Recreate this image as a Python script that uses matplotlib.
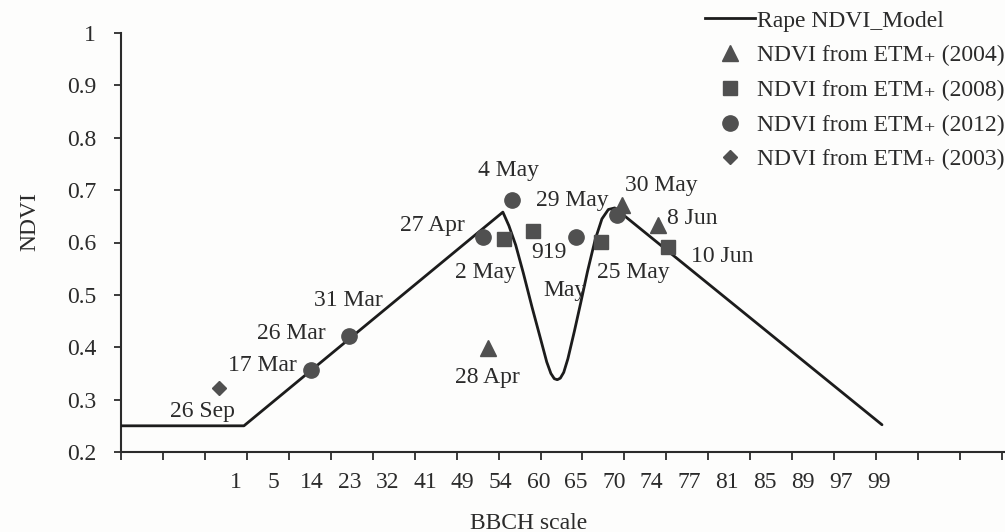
import numpy as np
import matplotlib
matplotlib.use("Agg")
import matplotlib.pyplot as plt
from matplotlib.lines import Line2D

plt.rcParams['font.family'] = ['Liberation Serif', 'DejaVu Serif']

# ---------------- data ----------------
# x values are positions along the BBCH tick-label sequence (0 -> "1", 17 -> "99")
bbch_labels = ["1", "5", "14", "23", "32", "41", "49", "54", "60", "65",
               "70", "74", "77", "81", "85", "89", "97", "99"]
ndvi_ticks = [0.2, 0.3, 0.4, 0.5, 0.6, 0.7, 0.8, 0.9, 1.0]
ndvi_tick_labels = ["0.2", "0.3", "0.4", "0.5", "0.6", "0.7", "0.8", "0.9", "1"]

# Rape NDVI model curve
model_x = [-3.04, 0.21, 7.06, 7.22, 7.40, 7.60, 7.83, 8.05, 8.22, 8.33, 8.42,
           8.50, 8.58, 8.67, 8.78, 8.95, 9.12, 9.30, 9.50, 9.68, 9.85, 10.02, 17.09]
model_y = [0.25, 0.25, 0.658, 0.632, 0.595, 0.542, 0.477, 0.418, 0.372, 0.350,
           0.340, 0.338, 0.341, 0.352, 0.378, 0.430, 0.485, 0.545, 0.605, 0.645,
           0.663, 0.666, 0.252]

# ETM+ observations
etm2004_x = [6.67, 10.21, 11.16]
etm2004_y = [0.399, 0.672, 0.633]
etm2008_x = [7.09, 7.86, 9.66, 11.43]
etm2008_y = [0.607, 0.622, 0.601, 0.591]
etm2012_x = [1.98, 2.99, 6.53, 7.30, 8.99, 10.08]
etm2012_y = [0.357, 0.421, 0.610, 0.681, 0.610, 0.652]
etm2003_x = [-0.45]
etm2003_y = [0.322]

# date annotations: text, x, y (data coordinates of label centre)
ann_text = ["26 Sep", "17 Mar", "26 Mar", "31 Mar", "27 Apr", "4 May", "29 May",
            "30 May", "8 Jun", "10 Jun", "2 May", "919", "May", "25 May", "28 Apr"]
ann_x = [-0.90, 0.71, 1.46, 2.96, 5.19, 7.22, 8.89, 11.24, 12.06, 12.86,
         6.61, 8.28, 8.70, 10.50, 6.64]
ann_y = [0.278, 0.366, 0.427, 0.490, 0.633, 0.738, 0.681, 0.708, 0.645, 0.574,
         0.542, 0.580, 0.509, 0.542, 0.343]

# ---------------- figure ----------------
W, H = 1005, 532
bg = '#fdfdfc'
txt = '#2b2b2b'
mk = '#505050'
fs = 17

fig = plt.figure(figsize=(W / 100, H / 100), dpi=100, facecolor=bg)
ax = fig.add_axes([121 / W, (H - 452) / H, 884 / W, 419 / H], facecolor=bg)

lab_step = 37.8      # px between BBCH labels
lab0_px = 236        # px of first label
tick_step = 41.95    # px between axis ticks
x_left = (121 - lab0_px) / lab_step
x_right = (W - lab0_px) / lab_step
ax.set_xlim(x_left, x_right)
ax.set_ylim(0.2, 1.0)

ax.plot(model_x, model_y, color='#1c1c1c', lw=2.0, zorder=3,
        solid_joinstyle='round', solid_capstyle='round')
ax.plot(etm2004_x, etm2004_y, ls='none', marker='^', ms=11, color=mk, zorder=4)
ax.plot(etm2008_x, etm2008_y, ls='none', marker='s', ms=10.5, color=mk, zorder=4)
ax.plot(etm2012_x, etm2012_y, ls='none', marker='o', ms=11, color=mk, zorder=4)
ax.plot(etm2003_x, etm2003_y, ls='none', marker='D', ms=7.5, color=mk, zorder=4)

for t, x, y in zip(ann_text, ann_x, ann_y):
    ax.text(x, y, t, ha='center', va='center', fontsize=fs, color=txt, zorder=5)

# spines
for s in ['top', 'right']:
    ax.spines[s].set_visible(False)
for s in ['left', 'bottom']:
    ax.spines[s].set_color('#2b2b2b')
    ax.spines[s].set_linewidth(1.5)

# x ticks: unlabeled equally spaced majors, labels on minor positions
n_ticks = 22
major = [x_left + k * tick_step / lab_step for k in range(n_ticks)]
ax.set_xticks(major)
ax.set_xticklabels([])
ax.set_xticks(np.arange(len(bbch_labels)), minor=True)
ax.set_xticklabels(bbch_labels, minor=True)
ax.tick_params(axis='x', which='major', direction='out', length=6, width=1.3,
               color='#2b2b2b')
ax.tick_params(axis='x', which='minor', length=0, pad=14.5, labelsize=fs,
               labelcolor=txt)

ax.set_yticks(ndvi_ticks)
ax.set_yticklabels(ndvi_tick_labels)
ax.tick_params(axis='y', direction='out', length=5, width=1.3, pad=13,
               labelsize=fs, labelcolor=txt, color='#2b2b2b')

ax.set_xlabel("BBCH scale", fontsize=fs, color=txt)
ax.xaxis.set_label_coords((529 - 121) / 884, -0.145)
ax.set_ylabel("NDVI", fontsize=fs, color=txt)
ax.yaxis.set_label_coords(-0.091, 0.55)

handles = [
    Line2D([], [], color='#1c1c1c', lw=2.0),
    Line2D([], [], ls='none', marker='^', ms=11, color=mk),
    Line2D([], [], ls='none', marker='s', ms=10.5, color=mk),
    Line2D([], [], ls='none', marker='o', ms=11, color=mk),
    Line2D([], [], ls='none', marker='D', ms=7.5, color=mk),
]
labels = ["Rape NDVI_Model",
          "NDVI from ETM\u208A (2004)",
          "NDVI from ETM\u208A (2008)",
          "NDVI from ETM\u208A (2012)",
          "NDVI from ETM\u208A (2003)"]
leg = fig.legend(handles, labels, loc='upper left',
                 bbox_to_anchor=(705 / W, 1 - 10 / H), frameon=False,
                 fontsize=fs, handlelength=2.1, handletextpad=0.1,
                 labelspacing=0.56, borderpad=0, borderaxespad=0)
for t in leg.get_texts():
    t.set_color(txt)

fig.savefig("out.png", dpi=100, facecolor=bg)
